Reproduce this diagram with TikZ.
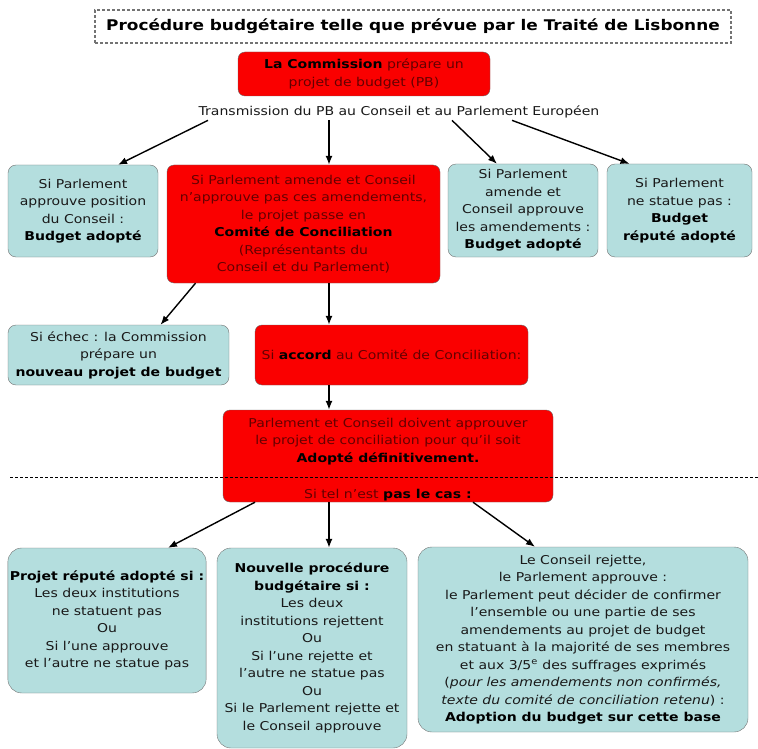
\documentclass[tikz,border=0pt]{standalone}
\usepackage{fontspec}
\setmainfont{DejaVu Sans}[FakeStretch=1.15]
\usepackage{tikz}
\usetikzlibrary{arrows.meta, positioning, calc}

\definecolor{rougevif}{RGB}{250,0,0}
\definecolor{texterouge}{RGB}{100,0,0}
\definecolor{turquoise}{RGB}{180,222,222}
\newcommand{\noir}[1]{\textcolor{black}{\bfseries #1}}

\begin{document}
\begin{tikzpicture}[x=1pt, y=-1pt,
    titre/.style={rectangle, draw=black!55, densely dashed, line width=1.4pt, minimum width=636pt, minimum height=33pt, font=\fontsize{14.7}{16}\selectfont\bfseries},
    rouge/.style={rectangle, draw=black!60, rounded corners=7pt, fill=rougevif, text=texterouge, align=center, inner sep=2pt, font=\fontsize{12.2}{17.5}\selectfont},
    bleu/.style={rectangle, draw=black!55, rounded corners=8pt, fill=turquoise, text=black!90, align=center, inner sep=2pt, font=\fontsize{12.2}{17.5}\selectfont},
    fleche/.style={draw=black, line width=1.4pt, -{Latex[length=9pt,width=7pt]}},
    separation/.style={draw=black, densely dashed, line width=1pt}
]
\useasboundingbox (0,0) rectangle (758,749);

\node[titre] (titre) at (413,26.5) {Procédure budgétaire telle que prévue par le Traité de Lisbonne};
\node[rouge, minimum width=252pt, minimum height=44pt] (commission) at (364,74) {\noir{La Commission} prépare un\\projet de budget (PB)};
\node[font=\fontsize{12.2}{14}\selectfont, text=black!90, inner sep=2pt] (transmission) at (399,112) {Transmission du PB au Conseil et au Parlement Européen};

\node[bleu, minimum width=150pt, minimum height=92pt] (approuve) at (83,211) {Si Parlement\\approuve position\\du Conseil :\\\noir{Budget adopté}};
\node[rouge, minimum width=273pt, minimum height=118pt] (comite) at (303.5,224) {Si Parlement amende et Conseil\\n'approuve pas ces amendements,\\le projet passe en\\\noir{Comité de Conciliation}\\(Représentants du\\Conseil et du Parlement)};
\node[bleu, minimum width=150pt, minimum height=93pt] (amende) at (523,210.5) {Si Parlement\\amende et\\Conseil approuve\\les amendements :\\\noir{Budget adopté}};
\node[bleu, minimum width=145pt, minimum height=93pt] (nestatue) at (679.5,210.5) {Si Parlement\\ne statue pas :\\\noir{Budget}\\\noir{réputé adopté}};

\node[bleu, minimum width=221pt, minimum height=60pt] (echec) at (118.5,355) {Si échec : la Commission\\prépare un\\\noir{nouveau projet de budget}};
\node[rouge, minimum width=273pt, minimum height=60pt] (accord) at (391.5,355) {Si \noir{accord} au Comité de Conciliation:};
\node[rouge, inner ysep=0pt, minimum width=330pt, minimum height=92pt] (definitif) at (388,456) {\rule{0pt}{17pt}Parlement et Conseil doivent approuver\\le projet de conciliation pour qu'il soit\\\noir{Adopté définitivement.}\\[19pt]Si tel n'est \noir{pas le cas :}};

\node[bleu, rounded corners=14pt, minimum width=198pt, minimum height=145pt] (repute) at (107,620.5) {\noir{Projet réputé adopté si :}\\Les deux institutions\\ne statuent pas\\Ou\\Si l'une approuve\\et l'autre ne statue pas};
\node[bleu, rounded corners=14pt, minimum width=190pt, minimum height=200pt] (nouvelle) at (312,648) {\noir{Nouvelle procédure}\\\noir{budgétaire si :}\\Les deux\\institutions rejettent\\Ou\\Si l'une rejette et\\l'autre ne statue pas\\Ou\\Si le Parlement rejette et\\le Conseil approuve};
\node[bleu, rounded corners=14pt, minimum width=330pt, minimum height=185pt] (rejette) at (583,639.5) {Le Conseil rejette,\\le Parlement approuve :\\le Parlement peut décider de confirmer\\l'ensemble ou une partie de ses\\amendements au projet de budget\\en statuant à la majorité de ses membres\\et aux 3/5\textsuperscript{e} des suffrages exprimés\\(\textit{pour les amendements non confirmés,}\\\textit{texte du comité de conciliation retenu}) :\\\noir{Adoption du budget sur cette base}};

% axe vertical des fleches centrales
\coordinate (axe) at (329,0);
\coordinate (sepgauche) at (10,477);
\coordinate (sepdroite) at (758,477);

\draw[fleche] ([xshift=-191pt]transmission.south) -- ([xshift=35pt]approuve.north);
\draw[fleche] (transmission.south -| axe) -- (comite.north -| axe);
\draw[fleche] ([xshift=53pt]transmission.south) -- ([xshift=-26pt]amende.north);
\draw[fleche] ([xshift=113pt]transmission.south) -- ([xshift=-50pt]nestatue.north);

\draw[fleche] ([xshift=-108pt]comite.south) -- ([xshift=42pt]echec.north);
\draw[fleche] (comite.south -| axe) -- (accord.north -| axe);
\draw[fleche] (accord.south -| axe) -- (definitif.north -| axe);

\draw[separation] (sepgauche) -- (sepdroite);

\draw[fleche] ([xshift=-133pt]definitif.south) -- ([xshift=61pt]repute.north);
\draw[fleche] (definitif.south -| axe) -- (nouvelle.north -| axe);
\draw[fleche] ([xshift=85pt]definitif.south) -- ([xshift=-48pt]rejette.north);
\end{tikzpicture}
\end{document}
